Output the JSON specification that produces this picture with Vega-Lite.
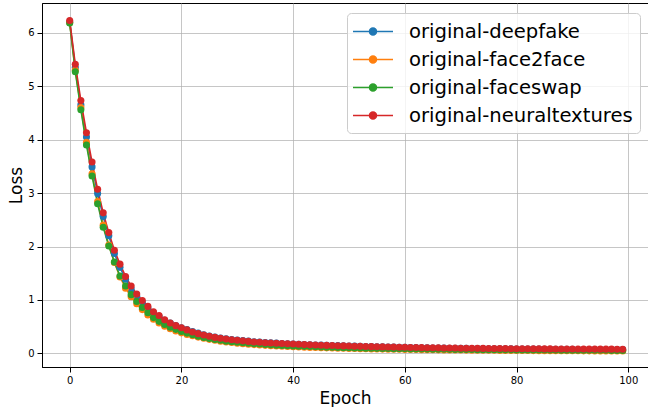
{
"$schema": "https://vega.github.io/schema/vega-lite/v6.json",
"autosize": "none",
"width": 606,
"height": 364,
"padding": {"left": 42, "top": 3, "right": 0, "bottom": 40},
"config": {
  "font": "DejaVu Sans",
  "view": {"stroke": "black", "strokeWidth": 1},
  "axis": {"labelFont": "DejaVu Sans", "titleFont": "DejaVu Sans", "labelColor": "black", "titleColor": "black", "titleFontWeight": "normal", "domainColor": "black", "tickColor": "black", "tickSize": 5, "labelFontSize": 10, "titleFontSize": 17, "gridColor": "#b0b0b0", "gridWidth": 0.8, "gridOpacity": 0.9}
},
"data": {"values": [
{"epoch":0,"series":"original-deepfake","loss":6.2},{"epoch":1,"series":"original-deepfake","loss":5.35},{"epoch":2,"series":"original-deepfake","loss":4.65},{"epoch":3,"series":"original-deepfake","loss":4.05},{"epoch":4,"series":"original-deepfake","loss":3.49},{"epoch":5,"series":"original-deepfake","loss":2.99},{"epoch":6,"series":"original-deepfake","loss":2.56},{"epoch":7,"series":"original-deepfake","loss":2.2},{"epoch":8,"series":"original-deepfake","loss":1.87},{"epoch":9,"series":"original-deepfake","loss":1.61},
{"epoch":10,"series":"original-deepfake","loss":1.39},{"epoch":11,"series":"original-deepfake","loss":1.21},{"epoch":12,"series":"original-deepfake","loss":1.07},{"epoch":13,"series":"original-deepfake","loss":0.95},{"epoch":14,"series":"original-deepfake","loss":0.85},{"epoch":15,"series":"original-deepfake","loss":0.76},{"epoch":16,"series":"original-deepfake","loss":0.69},{"epoch":17,"series":"original-deepfake","loss":0.62},{"epoch":18,"series":"original-deepfake","loss":0.57},{"epoch":19,"series":"original-deepfake","loss":0.52},
{"epoch":20,"series":"original-deepfake","loss":0.48},{"epoch":21,"series":"original-deepfake","loss":0.445},{"epoch":22,"series":"original-deepfake","loss":0.41},{"epoch":23,"series":"original-deepfake","loss":0.38},{"epoch":24,"series":"original-deepfake","loss":0.35},{"epoch":25,"series":"original-deepfake","loss":0.325},{"epoch":26,"series":"original-deepfake","loss":0.305},{"epoch":27,"series":"original-deepfake","loss":0.29},{"epoch":28,"series":"original-deepfake","loss":0.275},{"epoch":29,"series":"original-deepfake","loss":0.26},
{"epoch":30,"series":"original-deepfake","loss":0.25},{"epoch":31,"series":"original-deepfake","loss":0.24},{"epoch":32,"series":"original-deepfake","loss":0.23},{"epoch":33,"series":"original-deepfake","loss":0.22},{"epoch":34,"series":"original-deepfake","loss":0.213},{"epoch":35,"series":"original-deepfake","loss":0.205},{"epoch":36,"series":"original-deepfake","loss":0.198},{"epoch":37,"series":"original-deepfake","loss":0.192},{"epoch":38,"series":"original-deepfake","loss":0.187},{"epoch":39,"series":"original-deepfake","loss":0.182},
{"epoch":40,"series":"original-deepfake","loss":0.177},{"epoch":41,"series":"original-deepfake","loss":0.172},{"epoch":42,"series":"original-deepfake","loss":0.167},{"epoch":43,"series":"original-deepfake","loss":0.162},{"epoch":44,"series":"original-deepfake","loss":0.158},{"epoch":45,"series":"original-deepfake","loss":0.155},{"epoch":46,"series":"original-deepfake","loss":0.152},{"epoch":47,"series":"original-deepfake","loss":0.149},{"epoch":48,"series":"original-deepfake","loss":0.146},{"epoch":49,"series":"original-deepfake","loss":0.143},
{"epoch":50,"series":"original-deepfake","loss":0.14},{"epoch":51,"series":"original-deepfake","loss":0.137},{"epoch":52,"series":"original-deepfake","loss":0.134},{"epoch":53,"series":"original-deepfake","loss":0.131},{"epoch":54,"series":"original-deepfake","loss":0.128},{"epoch":55,"series":"original-deepfake","loss":0.125},{"epoch":56,"series":"original-deepfake","loss":0.122},{"epoch":57,"series":"original-deepfake","loss":0.12},{"epoch":58,"series":"original-deepfake","loss":0.118},{"epoch":59,"series":"original-deepfake","loss":0.116},
{"epoch":60,"series":"original-deepfake","loss":0.113},{"epoch":61,"series":"original-deepfake","loss":0.111},{"epoch":62,"series":"original-deepfake","loss":0.109},{"epoch":63,"series":"original-deepfake","loss":0.107},{"epoch":64,"series":"original-deepfake","loss":0.105},{"epoch":65,"series":"original-deepfake","loss":0.103},{"epoch":66,"series":"original-deepfake","loss":0.101},{"epoch":67,"series":"original-deepfake","loss":0.1},{"epoch":68,"series":"original-deepfake","loss":0.098},{"epoch":69,"series":"original-deepfake","loss":0.097},
{"epoch":70,"series":"original-deepfake","loss":0.095},{"epoch":71,"series":"original-deepfake","loss":0.094},{"epoch":72,"series":"original-deepfake","loss":0.093},{"epoch":73,"series":"original-deepfake","loss":0.091},{"epoch":74,"series":"original-deepfake","loss":0.09},{"epoch":75,"series":"original-deepfake","loss":0.089},{"epoch":76,"series":"original-deepfake","loss":0.088},{"epoch":77,"series":"original-deepfake","loss":0.087},{"epoch":78,"series":"original-deepfake","loss":0.086},{"epoch":79,"series":"original-deepfake","loss":0.085},
{"epoch":80,"series":"original-deepfake","loss":0.084},{"epoch":81,"series":"original-deepfake","loss":0.083},{"epoch":82,"series":"original-deepfake","loss":0.082},{"epoch":83,"series":"original-deepfake","loss":0.081},{"epoch":84,"series":"original-deepfake","loss":0.08},{"epoch":85,"series":"original-deepfake","loss":0.079},{"epoch":86,"series":"original-deepfake","loss":0.079},{"epoch":87,"series":"original-deepfake","loss":0.078},{"epoch":88,"series":"original-deepfake","loss":0.077},{"epoch":89,"series":"original-deepfake","loss":0.077},
{"epoch":90,"series":"original-deepfake","loss":0.076},{"epoch":91,"series":"original-deepfake","loss":0.075},{"epoch":92,"series":"original-deepfake","loss":0.075},{"epoch":93,"series":"original-deepfake","loss":0.074},{"epoch":94,"series":"original-deepfake","loss":0.074},{"epoch":95,"series":"original-deepfake","loss":0.073},{"epoch":96,"series":"original-deepfake","loss":0.073},{"epoch":97,"series":"original-deepfake","loss":0.072},{"epoch":98,"series":"original-deepfake","loss":0.072},{"epoch":99,"series":"original-deepfake","loss":0.071},
{"epoch":0,"series":"original-face2face","loss":6.19},{"epoch":1,"series":"original-face2face","loss":5.3},{"epoch":2,"series":"original-face2face","loss":4.6},{"epoch":3,"series":"original-face2face","loss":3.95},{"epoch":4,"series":"original-face2face","loss":3.36},{"epoch":5,"series":"original-face2face","loss":2.84},{"epoch":6,"series":"original-face2face","loss":2.4},{"epoch":7,"series":"original-face2face","loss":2.03},{"epoch":8,"series":"original-face2face","loss":1.7},{"epoch":9,"series":"original-face2face","loss":1.43},
{"epoch":10,"series":"original-face2face","loss":1.22},{"epoch":11,"series":"original-face2face","loss":1.06},{"epoch":12,"series":"original-face2face","loss":0.93},{"epoch":13,"series":"original-face2face","loss":0.82},{"epoch":14,"series":"original-face2face","loss":0.72},{"epoch":15,"series":"original-face2face","loss":0.64},{"epoch":16,"series":"original-face2face","loss":0.57},{"epoch":17,"series":"original-face2face","loss":0.51},{"epoch":18,"series":"original-face2face","loss":0.46},{"epoch":19,"series":"original-face2face","loss":0.42},
{"epoch":20,"series":"original-face2face","loss":0.385},{"epoch":21,"series":"original-face2face","loss":0.355},{"epoch":22,"series":"original-face2face","loss":0.33},{"epoch":23,"series":"original-face2face","loss":0.305},{"epoch":24,"series":"original-face2face","loss":0.283},{"epoch":25,"series":"original-face2face","loss":0.263},{"epoch":26,"series":"original-face2face","loss":0.245},{"epoch":27,"series":"original-face2face","loss":0.229},{"epoch":28,"series":"original-face2face","loss":0.215},{"epoch":29,"series":"original-face2face","loss":0.203},
{"epoch":30,"series":"original-face2face","loss":0.192},{"epoch":31,"series":"original-face2face","loss":0.182},{"epoch":32,"series":"original-face2face","loss":0.173},{"epoch":33,"series":"original-face2face","loss":0.165},{"epoch":34,"series":"original-face2face","loss":0.158},{"epoch":35,"series":"original-face2face","loss":0.151},{"epoch":36,"series":"original-face2face","loss":0.145},{"epoch":37,"series":"original-face2face","loss":0.139},{"epoch":38,"series":"original-face2face","loss":0.134},{"epoch":39,"series":"original-face2face","loss":0.129},
{"epoch":40,"series":"original-face2face","loss":0.125},{"epoch":41,"series":"original-face2face","loss":0.121},{"epoch":42,"series":"original-face2face","loss":0.117},{"epoch":43,"series":"original-face2face","loss":0.113},{"epoch":44,"series":"original-face2face","loss":0.11},{"epoch":45,"series":"original-face2face","loss":0.107},{"epoch":46,"series":"original-face2face","loss":0.104},{"epoch":47,"series":"original-face2face","loss":0.101},{"epoch":48,"series":"original-face2face","loss":0.098},{"epoch":49,"series":"original-face2face","loss":0.096},
{"epoch":50,"series":"original-face2face","loss":0.094},{"epoch":51,"series":"original-face2face","loss":0.091},{"epoch":52,"series":"original-face2face","loss":0.089},{"epoch":53,"series":"original-face2face","loss":0.087},{"epoch":54,"series":"original-face2face","loss":0.085},{"epoch":55,"series":"original-face2face","loss":0.083},{"epoch":56,"series":"original-face2face","loss":0.081},{"epoch":57,"series":"original-face2face","loss":0.08},{"epoch":58,"series":"original-face2face","loss":0.078},{"epoch":59,"series":"original-face2face","loss":0.077},
{"epoch":60,"series":"original-face2face","loss":0.075},{"epoch":61,"series":"original-face2face","loss":0.074},{"epoch":62,"series":"original-face2face","loss":0.072},{"epoch":63,"series":"original-face2face","loss":0.071},{"epoch":64,"series":"original-face2face","loss":0.07},{"epoch":65,"series":"original-face2face","loss":0.069},{"epoch":66,"series":"original-face2face","loss":0.067},{"epoch":67,"series":"original-face2face","loss":0.066},{"epoch":68,"series":"original-face2face","loss":0.065},{"epoch":69,"series":"original-face2face","loss":0.064},
{"epoch":70,"series":"original-face2face","loss":0.063},{"epoch":71,"series":"original-face2face","loss":0.062},{"epoch":72,"series":"original-face2face","loss":0.061},{"epoch":73,"series":"original-face2face","loss":0.06},{"epoch":74,"series":"original-face2face","loss":0.059},{"epoch":75,"series":"original-face2face","loss":0.059},{"epoch":76,"series":"original-face2face","loss":0.058},{"epoch":77,"series":"original-face2face","loss":0.057},{"epoch":78,"series":"original-face2face","loss":0.056},{"epoch":79,"series":"original-face2face","loss":0.056},
{"epoch":80,"series":"original-face2face","loss":0.055},{"epoch":81,"series":"original-face2face","loss":0.054},{"epoch":82,"series":"original-face2face","loss":0.054},{"epoch":83,"series":"original-face2face","loss":0.053},{"epoch":84,"series":"original-face2face","loss":0.052},{"epoch":85,"series":"original-face2face","loss":0.052},{"epoch":86,"series":"original-face2face","loss":0.051},{"epoch":87,"series":"original-face2face","loss":0.051},{"epoch":88,"series":"original-face2face","loss":0.05},{"epoch":89,"series":"original-face2face","loss":0.05},
{"epoch":90,"series":"original-face2face","loss":0.049},{"epoch":91,"series":"original-face2face","loss":0.049},{"epoch":92,"series":"original-face2face","loss":0.048},{"epoch":93,"series":"original-face2face","loss":0.048},{"epoch":94,"series":"original-face2face","loss":0.047},{"epoch":95,"series":"original-face2face","loss":0.047},{"epoch":96,"series":"original-face2face","loss":0.047},{"epoch":97,"series":"original-face2face","loss":0.046},{"epoch":98,"series":"original-face2face","loss":0.046},{"epoch":99,"series":"original-face2face","loss":0.045},
{"epoch":0,"series":"original-faceswap","loss":6.18},{"epoch":1,"series":"original-faceswap","loss":5.27},{"epoch":2,"series":"original-faceswap","loss":4.56},{"epoch":3,"series":"original-faceswap","loss":3.9},{"epoch":4,"series":"original-faceswap","loss":3.32},{"epoch":5,"series":"original-faceswap","loss":2.8},{"epoch":6,"series":"original-faceswap","loss":2.36},{"epoch":7,"series":"original-faceswap","loss":2.01},{"epoch":8,"series":"original-faceswap","loss":1.71},{"epoch":9,"series":"original-faceswap","loss":1.45},
{"epoch":10,"series":"original-faceswap","loss":1.26},{"epoch":11,"series":"original-faceswap","loss":1.1},{"epoch":12,"series":"original-faceswap","loss":0.97},{"epoch":13,"series":"original-faceswap","loss":0.86},{"epoch":14,"series":"original-faceswap","loss":0.76},{"epoch":15,"series":"original-faceswap","loss":0.67},{"epoch":16,"series":"original-faceswap","loss":0.6},{"epoch":17,"series":"original-faceswap","loss":0.54},{"epoch":18,"series":"original-faceswap","loss":0.49},{"epoch":19,"series":"original-faceswap","loss":0.45},
{"epoch":20,"series":"original-faceswap","loss":0.41},{"epoch":21,"series":"original-faceswap","loss":0.38},{"epoch":22,"series":"original-faceswap","loss":0.35},{"epoch":23,"series":"original-faceswap","loss":0.32},{"epoch":24,"series":"original-faceswap","loss":0.3},{"epoch":25,"series":"original-faceswap","loss":0.28},{"epoch":26,"series":"original-faceswap","loss":0.26},{"epoch":27,"series":"original-faceswap","loss":0.245},{"epoch":28,"series":"original-faceswap","loss":0.23},{"epoch":29,"series":"original-faceswap","loss":0.22},
{"epoch":30,"series":"original-faceswap","loss":0.21},{"epoch":31,"series":"original-faceswap","loss":0.2},{"epoch":32,"series":"original-faceswap","loss":0.19},{"epoch":33,"series":"original-faceswap","loss":0.18},{"epoch":34,"series":"original-faceswap","loss":0.175},{"epoch":35,"series":"original-faceswap","loss":0.168},{"epoch":36,"series":"original-faceswap","loss":0.16},{"epoch":37,"series":"original-faceswap","loss":0.155},{"epoch":38,"series":"original-faceswap","loss":0.15},{"epoch":39,"series":"original-faceswap","loss":0.145},
{"epoch":40,"series":"original-faceswap","loss":0.14},{"epoch":41,"series":"original-faceswap","loss":0.136},{"epoch":42,"series":"original-faceswap","loss":0.132},{"epoch":43,"series":"original-faceswap","loss":0.128},{"epoch":44,"series":"original-faceswap","loss":0.124},{"epoch":45,"series":"original-faceswap","loss":0.12},{"epoch":46,"series":"original-faceswap","loss":0.117},{"epoch":47,"series":"original-faceswap","loss":0.114},{"epoch":48,"series":"original-faceswap","loss":0.111},{"epoch":49,"series":"original-faceswap","loss":0.108},
{"epoch":50,"series":"original-faceswap","loss":0.106},{"epoch":51,"series":"original-faceswap","loss":0.103},{"epoch":52,"series":"original-faceswap","loss":0.101},{"epoch":53,"series":"original-faceswap","loss":0.099},{"epoch":54,"series":"original-faceswap","loss":0.097},{"epoch":55,"series":"original-faceswap","loss":0.095},{"epoch":56,"series":"original-faceswap","loss":0.093},{"epoch":57,"series":"original-faceswap","loss":0.091},{"epoch":58,"series":"original-faceswap","loss":0.089},{"epoch":59,"series":"original-faceswap","loss":0.088},
{"epoch":60,"series":"original-faceswap","loss":0.086},{"epoch":61,"series":"original-faceswap","loss":0.085},{"epoch":62,"series":"original-faceswap","loss":0.083},{"epoch":63,"series":"original-faceswap","loss":0.082},{"epoch":64,"series":"original-faceswap","loss":0.081},{"epoch":65,"series":"original-faceswap","loss":0.08},{"epoch":66,"series":"original-faceswap","loss":0.078},{"epoch":67,"series":"original-faceswap","loss":0.077},{"epoch":68,"series":"original-faceswap","loss":0.076},{"epoch":69,"series":"original-faceswap","loss":0.075},
{"epoch":70,"series":"original-faceswap","loss":0.074},{"epoch":71,"series":"original-faceswap","loss":0.073},{"epoch":72,"series":"original-faceswap","loss":0.072},{"epoch":73,"series":"original-faceswap","loss":0.071},{"epoch":74,"series":"original-faceswap","loss":0.07},{"epoch":75,"series":"original-faceswap","loss":0.07},{"epoch":76,"series":"original-faceswap","loss":0.069},{"epoch":77,"series":"original-faceswap","loss":0.068},{"epoch":78,"series":"original-faceswap","loss":0.067},{"epoch":79,"series":"original-faceswap","loss":0.067},
{"epoch":80,"series":"original-faceswap","loss":0.066},{"epoch":81,"series":"original-faceswap","loss":0.065},{"epoch":82,"series":"original-faceswap","loss":0.065},{"epoch":83,"series":"original-faceswap","loss":0.064},{"epoch":84,"series":"original-faceswap","loss":0.063},{"epoch":85,"series":"original-faceswap","loss":0.063},{"epoch":86,"series":"original-faceswap","loss":0.062},{"epoch":87,"series":"original-faceswap","loss":0.062},{"epoch":88,"series":"original-faceswap","loss":0.061},{"epoch":89,"series":"original-faceswap","loss":0.061},
{"epoch":90,"series":"original-faceswap","loss":0.06},{"epoch":91,"series":"original-faceswap","loss":0.06},{"epoch":92,"series":"original-faceswap","loss":0.059},{"epoch":93,"series":"original-faceswap","loss":0.059},{"epoch":94,"series":"original-faceswap","loss":0.058},{"epoch":95,"series":"original-faceswap","loss":0.058},{"epoch":96,"series":"original-faceswap","loss":0.058},{"epoch":97,"series":"original-faceswap","loss":0.057},{"epoch":98,"series":"original-faceswap","loss":0.057},{"epoch":99,"series":"original-faceswap","loss":0.056},
{"epoch":0,"series":"original-neuraltextures","loss":6.23},{"epoch":1,"series":"original-neuraltextures","loss":5.41},{"epoch":2,"series":"original-neuraltextures","loss":4.73},{"epoch":3,"series":"original-neuraltextures","loss":4.13},{"epoch":4,"series":"original-neuraltextures","loss":3.58},{"epoch":5,"series":"original-neuraltextures","loss":3.07},{"epoch":6,"series":"original-neuraltextures","loss":2.63},{"epoch":7,"series":"original-neuraltextures","loss":2.26},{"epoch":8,"series":"original-neuraltextures","loss":1.93},{"epoch":9,"series":"original-neuraltextures","loss":1.67},
{"epoch":10,"series":"original-neuraltextures","loss":1.44},{"epoch":11,"series":"original-neuraltextures","loss":1.26},{"epoch":12,"series":"original-neuraltextures","loss":1.11},{"epoch":13,"series":"original-neuraltextures","loss":0.99},{"epoch":14,"series":"original-neuraltextures","loss":0.88},{"epoch":15,"series":"original-neuraltextures","loss":0.78},{"epoch":16,"series":"original-neuraltextures","loss":0.71},{"epoch":17,"series":"original-neuraltextures","loss":0.63},{"epoch":18,"series":"original-neuraltextures","loss":0.57},{"epoch":19,"series":"original-neuraltextures","loss":0.52},
{"epoch":20,"series":"original-neuraltextures","loss":0.48},{"epoch":21,"series":"original-neuraltextures","loss":0.44},{"epoch":22,"series":"original-neuraltextures","loss":0.4},{"epoch":23,"series":"original-neuraltextures","loss":0.37},{"epoch":24,"series":"original-neuraltextures","loss":0.345},{"epoch":25,"series":"original-neuraltextures","loss":0.32},{"epoch":26,"series":"original-neuraltextures","loss":0.3},{"epoch":27,"series":"original-neuraltextures","loss":0.285},{"epoch":28,"series":"original-neuraltextures","loss":0.27},{"epoch":29,"series":"original-neuraltextures","loss":0.255},
{"epoch":30,"series":"original-neuraltextures","loss":0.245},{"epoch":31,"series":"original-neuraltextures","loss":0.235},{"epoch":32,"series":"original-neuraltextures","loss":0.225},{"epoch":33,"series":"original-neuraltextures","loss":0.215},{"epoch":34,"series":"original-neuraltextures","loss":0.21},{"epoch":35,"series":"original-neuraltextures","loss":0.2},{"epoch":36,"series":"original-neuraltextures","loss":0.195},{"epoch":37,"series":"original-neuraltextures","loss":0.19},{"epoch":38,"series":"original-neuraltextures","loss":0.185},{"epoch":39,"series":"original-neuraltextures","loss":0.18},
{"epoch":40,"series":"original-neuraltextures","loss":0.175},{"epoch":41,"series":"original-neuraltextures","loss":0.17},{"epoch":42,"series":"original-neuraltextures","loss":0.165},{"epoch":43,"series":"original-neuraltextures","loss":0.16},{"epoch":44,"series":"original-neuraltextures","loss":0.157},{"epoch":45,"series":"original-neuraltextures","loss":0.153},{"epoch":46,"series":"original-neuraltextures","loss":0.15},{"epoch":47,"series":"original-neuraltextures","loss":0.147},{"epoch":48,"series":"original-neuraltextures","loss":0.144},{"epoch":49,"series":"original-neuraltextures","loss":0.141},
{"epoch":50,"series":"original-neuraltextures","loss":0.138},{"epoch":51,"series":"original-neuraltextures","loss":0.135},{"epoch":52,"series":"original-neuraltextures","loss":0.132},{"epoch":53,"series":"original-neuraltextures","loss":0.13},{"epoch":54,"series":"original-neuraltextures","loss":0.127},{"epoch":55,"series":"original-neuraltextures","loss":0.125},{"epoch":56,"series":"original-neuraltextures","loss":0.122},{"epoch":57,"series":"original-neuraltextures","loss":0.12},{"epoch":58,"series":"original-neuraltextures","loss":0.118},{"epoch":59,"series":"original-neuraltextures","loss":0.116},
{"epoch":60,"series":"original-neuraltextures","loss":0.114},{"epoch":61,"series":"original-neuraltextures","loss":0.112},{"epoch":62,"series":"original-neuraltextures","loss":0.11},{"epoch":63,"series":"original-neuraltextures","loss":0.108},{"epoch":64,"series":"original-neuraltextures","loss":0.107},{"epoch":65,"series":"original-neuraltextures","loss":0.105},{"epoch":66,"series":"original-neuraltextures","loss":0.104},{"epoch":67,"series":"original-neuraltextures","loss":0.102},{"epoch":68,"series":"original-neuraltextures","loss":0.101},{"epoch":69,"series":"original-neuraltextures","loss":0.1},
{"epoch":70,"series":"original-neuraltextures","loss":0.098},{"epoch":71,"series":"original-neuraltextures","loss":0.097},{"epoch":72,"series":"original-neuraltextures","loss":0.096},{"epoch":73,"series":"original-neuraltextures","loss":0.095},{"epoch":74,"series":"original-neuraltextures","loss":0.094},{"epoch":75,"series":"original-neuraltextures","loss":0.093},{"epoch":76,"series":"original-neuraltextures","loss":0.092},{"epoch":77,"series":"original-neuraltextures","loss":0.091},{"epoch":78,"series":"original-neuraltextures","loss":0.09},{"epoch":79,"series":"original-neuraltextures","loss":0.089},
{"epoch":80,"series":"original-neuraltextures","loss":0.089},{"epoch":81,"series":"original-neuraltextures","loss":0.088},{"epoch":82,"series":"original-neuraltextures","loss":0.087},{"epoch":83,"series":"original-neuraltextures","loss":0.086},{"epoch":84,"series":"original-neuraltextures","loss":0.086},{"epoch":85,"series":"original-neuraltextures","loss":0.085},{"epoch":86,"series":"original-neuraltextures","loss":0.085},{"epoch":87,"series":"original-neuraltextures","loss":0.084},{"epoch":88,"series":"original-neuraltextures","loss":0.084},{"epoch":89,"series":"original-neuraltextures","loss":0.083},
{"epoch":90,"series":"original-neuraltextures","loss":0.083},{"epoch":91,"series":"original-neuraltextures","loss":0.082},{"epoch":92,"series":"original-neuraltextures","loss":0.082},{"epoch":93,"series":"original-neuraltextures","loss":0.081},{"epoch":94,"series":"original-neuraltextures","loss":0.081},{"epoch":95,"series":"original-neuraltextures","loss":0.08},{"epoch":96,"series":"original-neuraltextures","loss":0.08},{"epoch":97,"series":"original-neuraltextures","loss":0.08},{"epoch":98,"series":"original-neuraltextures","loss":0.079},{"epoch":99,"series":"original-neuraltextures","loss":0.079}
]},
"encoding": {
  "x": {"field": "epoch", "type": "quantitative", "scale": {"domain": [-4.96, 103.53], "nice": false, "zero": false}, "axis": {"values": [0, 20, 40, 60, 80, 100], "title": "Epoch", "titlePadding": 5, "labelPadding": 3}},
  "y": {"field": "loss", "type": "quantitative", "scale": {"domain": [-0.254, 6.556], "nice": false, "zero": false}, "axis": {"values": [0, 1, 2, 3, 4, 5, 6], "title": "Loss", "titlePadding": 2, "labelPadding": 3}},
  "color": {"field": "series", "type": "nominal", "scale": {"domain": ["original-deepfake", "original-face2face", "original-faceswap", "original-neuraltextures"], "range": ["#1f77b4", "#ff7f0e", "#2ca02c", "#d62728"]},
    "legend": {"title": null, "orient": "none", "legendX": 305, "legendY": 10, "padding": 7, "strokeColor": "#cccccc", "fillColor": "rgba(255,255,255,0.8)", "cornerRadius": 4, "labelFontSize": 19.6, "labelFont": "DejaVu Sans", "labelColor": "black", "labelLimit": 400, "rowPadding": 6, "labelOffset": 32, "symbolSize": 441, "symbolStrokeWidth": 1.5, "symbolOpacity": 1, "symbolType": "M-1.19,0H2.62M0.38,0A0.333,0.333,0,1,0,1.046,0A0.333,0.333,0,1,0,0.38,0Z",
      "encode": {"symbols": {"update": {"fill": {"scale": "color", "field": "value"}, "stroke": {"scale": "color", "field": "value"}}}}}}
},
"layer": [
  {"mark": {"type": "line", "strokeWidth": 1.6}},
  {"mark": {"type": "point", "shape": "circle", "filled": true, "size": 50, "opacity": 1}}
]
}
